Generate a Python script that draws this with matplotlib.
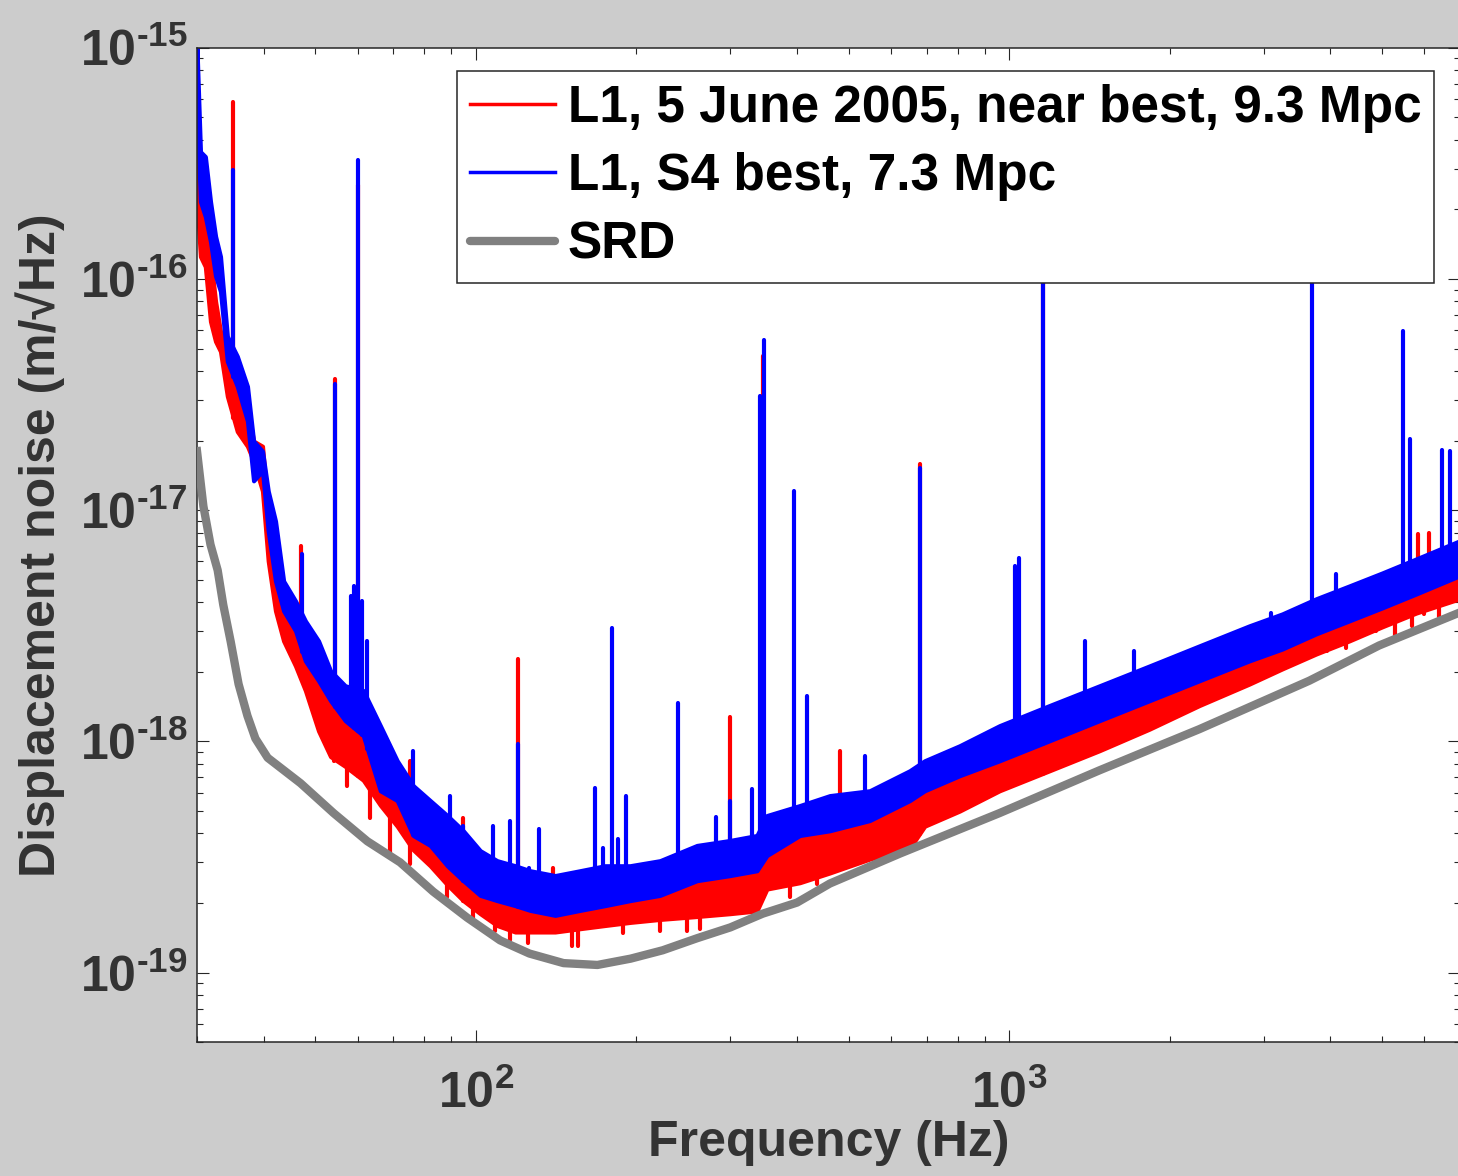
import numpy as np
import matplotlib
matplotlib.use("Agg")
import matplotlib.pyplot as plt
from matplotlib import font_manager
from matplotlib.lines import Line2D
from matplotlib.ticker import LogLocator, FixedLocator, FuncFormatter, NullFormatter

# ---------------------------------------------------------------------------
# data
# ---------------------------------------------------------------------------

# common frequency grid for the two measured spectra (Hz)
freq = [30.0, 30.45, 31.1, 31.8, 32.5, 33.2, 34.2, 35.7, 37.3, 38.3,
        39.8, 40.8, 42.1, 43.6, 45.9, 47.9, 50.7, 53.4, 56.9, 61.5,
        66.2, 71.2, 76.3, 82.1, 88.4, 94.7, 101.9, 109.6, 118.5, 126.4,
        140.8, 156.8, 174.6, 194.5, 221.4, 259.7, 299.5, 336.4, 351.2, 404.8,
        460.8, 547.5, 650.7, 694.1, 807.1, 959.0, 1190, 1476, 1831, 2272,
        2818, 3250, 3763, 4337, 5001, 5791, 6970]

# L1, 5 June 2005 -- upper / lower edge of the dense part of the trace (m/rtHz)
red_hi = [4.55e-16, 2.16e-16, 1.86e-16, 1.25e-16, 8.0e-17, 5.93e-17, 4.86e-17, 3.11e-17, 2.81e-17, 1.99e-17,
          1.89e-17, 9.91e-18, 7.35e-18, 4.47e-18, 3.67e-18, 2.46e-18, 2.02e-18, 1.66e-18, 1.50e-18, 1.23e-18,
          7.85e-19, 6.12e-19, 5.55e-19, 4.11e-19, 3.73e-19, 3.21e-19, 3.05e-19, 2.76e-19, 2.50e-19, 2.38e-19,
          2.27e-19, 2.38e-19, 2.38e-19, 2.50e-19, 2.63e-19, 2.76e-19, 2.90e-19, 2.95e-19, 4.11e-19, 4.11e-19,
          4.78e-19, 5.55e-19, 6.12e-19, 7.47e-19, 8.25e-19, 1.01e-18, 1.20e-18, 1.47e-18, 1.74e-18, 2.12e-18,
          2.64e-18, 2.92e-18, 3.42e-18, 3.97e-18, 4.47e-18, 5.09e-18, 5.91e-18]
red_lo = [2.16e-16, 1.25e-16, 1.13e-16, 6.55e-17, 5.37e-17, 4.86e-17, 3.11e-17, 2.19e-17, 1.89e-17, 1.63e-17,
          1.21e-17, 6.03e-18, 3.67e-18, 2.72e-18, 2.12e-18, 1.66e-18, 1.11e-18, 8.6e-19, 7.8e-19, 6.8e-19,
          5.3e-19, 4.3e-19, 3.4e-19, 2.9e-19, 2.4e-19, 2.05e-19, 1.8e-19, 1.6e-19, 1.5e-19, 1.5e-19,
          1.5e-19, 1.55e-19, 1.6e-19, 1.65e-19, 1.7e-19, 1.75e-19, 1.8e-19, 1.85e-19, 2.3e-19, 2.45e-19,
          2.7e-19, 3.1e-19, 3.45e-19, 4.3e-19, 5.0e-19, 6.12e-19, 7.47e-19, 9.12e-19, 1.13e-18, 1.43e-18,
          1.77e-18, 2.06e-18, 2.39e-18, 2.72e-18, 3.13e-18, 3.59e-18, 4.13e-18]

# L1, S4 best
blue_hi = [9.89e-16, 3.55e-16, 3.38e-16, 2.16e-16, 1.53e-16, 1.25e-16, 5.65e-17, 4.63e-17, 3.43e-17, 1.99e-17,
           1.80e-17, 1.21e-17, 8.97e-18, 4.94e-18, 4.05e-18, 3.32e-18, 2.72e-18, 2.02e-18, 1.74e-18, 1.66e-18,
           1.17e-18, 8.25e-19, 6.44e-19, 5.55e-19, 4.78e-19, 4.11e-19, 3.37e-19, 3.05e-19, 2.90e-19, 2.76e-19,
           2.63e-19, 2.76e-19, 2.90e-19, 2.90e-19, 3.05e-19, 3.55e-19, 3.73e-19, 3.92e-19, 4.78e-19, 5.28e-19,
           5.83e-19, 6.12e-19, 7.47e-19, 8.25e-19, 9.58e-19, 1.17e-18, 1.43e-18, 1.74e-18, 2.12e-18, 2.59e-18,
           3.16e-18, 3.56e-18, 4.14e-18, 4.70e-18, 5.35e-18, 6.15e-18, 7.35e-18]
blue_lo = [5.29e-16, 2.16e-16, 1.86e-16, 1.45e-16, 1.03e-16, 8.83e-17, 4.40e-17, 3.43e-17, 2.43e-17, 1.34e-17,
           1.48e-17, 8.12e-18, 4.94e-18, 3.67e-18, 3.01e-18, 2.23e-18, 1.83e-18, 1.50e-18, 1.23e-18, 1.06e-18,
           6.12e-19, 5.55e-19, 3.92e-19, 3.55e-19, 2.90e-19, 2.50e-19, 2.16e-19, 2.05e-19, 1.95e-19, 1.86e-19,
           1.77e-19, 1.86e-19, 1.95e-19, 2.05e-19, 2.16e-19, 2.50e-19, 2.63e-19, 2.76e-19, 3.21e-19, 3.92e-19,
           4.11e-19, 4.55e-19, 5.55e-19, 6.12e-19, 7.11e-19, 8.25e-19, 1.007e-18, 1.23e-18, 1.50e-18, 1.83e-18,
           2.23e-18, 2.51e-18, 2.92e-18, 3.32e-18, 3.78e-18, 4.34e-18, 5.19e-18]

# narrow lines (frequency, peak height)
red_spike_f = [35.1, 46.9, 54.5, 60.0, 75.3, 94.7, 120.0, 139.6, 300.0, 344.8,
               481, 679, 1155, 5842, 6124]
red_spike_v = [5.83e-16, 7.0e-18, 3.68e-17, 2.56e-16, 8.25e-19, 4.67e-19, 2.28e-18, 2.84e-19, 1.27e-18, 4.63e-17,
               9.1e-19, 1.58e-17, 9.75e-17, 7.88e-18, 8.0e-18]

# downward excursions of the red trace (frequency, lowest value)
red_dip_f = [54.1, 57.4, 63.4, 69.1, 75.3, 88.4, 98.8, 108.7, 116.0, 125.3,
             151.4, 155.4, 188.7, 221.4, 248.7, 263.1, 316.7, 387.9, 435.7, 3073,
             3350, 3946, 4281, 4874, 5290, 5691, 5993, 6395]
red_dip_v = [8.25e-19, 6.44e-19, 4.68e-19, 3.27e-19, 2.96e-19, 2.12e-19, 1.73e-19, 1.52e-19, 1.38e-19, 1.34e-19,
             1.31e-19, 1.31e-19, 1.48e-19, 1.52e-19, 1.52e-19, 1.55e-19, 1.91e-19, 2.12e-19, 2.43e-19, 1.98e-18,
             2.19e-18, 2.46e-18, 2.54e-18, 3.01e-18, 2.86e-18, 3.16e-18, 3.56e-18, 3.44e-18]

blue_spike_f = [35.1, 47.3, 54.5, 58.2, 59.2, 60.0, 61.2, 62.6, 76.3, 89.5,
                94.7, 107.7, 116.0, 120.0, 125.9, 131.4, 167.3, 173.1, 180.0, 184.7,
                191.2, 239.2, 281.8, 300.0, 329.2, 340.7, 346.7, 394.6, 404.8, 417.3,
                535.9, 679, 1023, 1045, 1155, 1384, 1541, 1717, 3099, 3700,
                4101, 5475, 5642, 6477, 6706]
blue_spike_v = [2.97e-16, 6.46e-18, 3.50e-17, 4.26e-18, 4.70e-18, 3.28e-16, 4.05e-18, 2.72e-18, 9.12e-19, 5.83e-19,
                4.33e-19, 4.33e-19, 4.55e-19, 9.77e-19, 2.84e-19, 4.2e-19, 6.3e-19, 3.47e-19, 3.10e-18, 3.8e-19,
                5.83e-19, 1.47e-18, 4.7e-19, 5.55e-19, 6.2e-19, 3.11e-17, 5.47e-17, 1.21e-17, 4.7e-19, 1.58e-18,
                8.68e-19, 1.52e-17, 5.74e-18, 6.2e-18, 9.75e-17, 2.72e-18, 1.66e-18, 2.46e-18, 3.6e-18, 9.75e-17,
                5.3e-18, 5.93e-17, 2.04e-17, 1.83e-17, 1.80e-17]

# SRD design curve
srd_f = [30.0, 30.84, 31.8, 32.8, 33.6, 34.7, 35.9, 37.3, 38.6, 40.7,
         46.9, 54.1, 62.6, 72.1, 83.2, 96.3, 111, 126, 146, 169,
         195, 224, 260, 300, 345, 400, 461, 623, 959, 1476,
         2272, 3651, 4937, 6970]
srd_v = [1.80e-17, 1.04e-17, 7.1e-18, 5.5e-18, 3.9e-18, 2.7e-18, 1.77e-18, 1.29e-18, 1.03e-18, 8.5e-19,
         6.6e-19, 4.9e-19, 3.7e-19, 3.0e-19, 2.24e-19, 1.73e-19, 1.38e-19, 1.21e-19, 1.10e-19, 1.08e-19,
         1.15e-19, 1.25e-19, 1.41e-19, 1.57e-19, 1.80e-19, 2.01e-19, 2.43e-19, 3.27e-19, 4.9e-19, 7.5e-19,
         1.13e-18, 1.83e-18, 2.6e-18, 3.6e-18]

labels = ["L1, 5 June 2005, near best, 9.3 Mpc", "L1, S4 best, 7.3 Mpc", "SRD"]

x_major = [1e2, 1e3]
y_major = [1e-19, 1e-18, 1e-17, 1e-16, 1e-15]

# ---------------------------------------------------------------------------
# style
# ---------------------------------------------------------------------------

BG = "#cccccc"
DARK = "#262626"
TXT = "#333333"
RED = "#ff0000"
BLUE = "#0000ff"
GRAY = "#808080"
LW = 3.0

names = {f.name for f in font_manager.fontManager.ttflist}
legend_family = "Liberation Sans Narrow" if "Liberation Sans Narrow" in names else "Liberation Sans"

plt.rcParams["font.family"] = ["Liberation Sans", "DejaVu Sans"]
plt.rcParams["font.weight"] = "bold"
plt.rcParams["mathtext.fontset"] = "custom"
plt.rcParams["mathtext.rm"] = "Liberation Sans:bold"
plt.rcParams["mathtext.bf"] = "Liberation Sans:bold"
plt.rcParams["mathtext.it"] = "Liberation Sans:bold:italic"
plt.rcParams["mathtext.default"] = "bf"


def pow10_label(v, _pos=None):
    """MATLAB style 10^n label, short hyphen for the sign."""
    e = int(round(np.log10(v)))
    s = ("\u2010%d" % -e) if e < 0 else ("%d" % e)
    return r"$\mathbf{10^{%s}}$" % s


def band_at(fs, f, edge):
    return 10 ** np.interp(np.log10(fs), np.log10(f), np.log10(edge))


def draw_trace(ax, f, lo, hi, sf, sv, color, lw, df=(), dv=()):
    """Noisy trace as a filled band plus its narrow lines."""
    f = np.asarray(f, float)
    lo = np.asarray(lo, float)
    hi = np.asarray(hi, float)
    ax.fill_between(f, lo, hi, facecolor=color, edgecolor=color, linewidth=lw,
                    joinstyle="round", zorder=2)
    for fs, vs in zip(sf, sv):
        ax.plot([fs, fs], [band_at(fs, f, lo), vs], color=color, lw=lw,
                solid_capstyle="round", zorder=2)
    for fs, vs in zip(df, dv):
        ax.plot([fs, fs], [vs, band_at(fs, f, hi)], color=color, lw=lw,
                solid_capstyle="round", zorder=2)


fig = plt.figure(figsize=(14.58, 11.76), dpi=100, facecolor=BG)
ax = fig.add_axes([197 / 1458, 1 - 1042.3 / 1176, 1263 / 1458, 994.6 / 1176])
ax.set_facecolor("white")

ax.set_xscale("log")
ax.set_yscale("log")

draw_trace(ax, freq, red_lo, red_hi, red_spike_f, red_spike_v, RED, LW, red_dip_f, red_dip_v)
draw_trace(ax, freq, blue_lo, blue_hi, blue_spike_f, blue_spike_v, BLUE, LW)
ax.plot(srd_f, srd_v, color=GRAY, lw=6, zorder=3, solid_joinstyle="round")

ax.set_xlim(30, 7000)
ax.set_ylim(5e-20, 1e-15)

# ticks, MATLAB look
ax.xaxis.set_major_locator(FixedLocator(x_major))
ax.yaxis.set_major_locator(FixedLocator(y_major))
for axis in (ax.xaxis, ax.yaxis):
    axis.set_minor_locator(LogLocator(base=10, subs=np.arange(2, 10), numticks=100))
    axis.set_major_formatter(FuncFormatter(pow10_label))
    axis.set_minor_formatter(NullFormatter())

ax.tick_params(which="both", direction="in", top=True, right=True, color=DARK,
               width=0.8, labelcolor=TXT, labelsize=36)
ax.tick_params(which="major", length=8.6)
ax.tick_params(which="minor", length=4.3)
ax.tick_params(axis="x", which="major", pad=20)
ax.tick_params(axis="y", which="major", pad=7)
for sp in ax.spines.values():
    sp.set_color(DARK)
    sp.set_linewidth(1.1)

ax.set_xlabel("Frequency (Hz)", fontsize=36, fontweight="bold", color=TXT)
ax.set_ylabel("Displacement noise (m/\u221aHz)", fontsize=36, fontweight="bold", color=TXT)
ax.xaxis.set_label_coords(0.5, -0.078)
ax.yaxis.set_label_coords(-0.1045, 0.5)

handles = [Line2D([], [], color=RED, lw=2.5),
           Line2D([], [], color=BLUE, lw=2.5),
           Line2D([], [], color=GRAY, lw=6, solid_capstyle="round")]
leg = ax.legend(handles, labels, loc="upper right", bbox_to_anchor=(0.9794, 0.9766),
                prop={"family": legend_family, "weight": "bold", "size": 37},
                frameon=True, fancybox=False, framealpha=1, edgecolor=DARK,
                handlelength=1.65, handletextpad=0.25, labelspacing=0.38,
                borderpad=0.25, borderaxespad=0)
leg.get_frame().set_linewidth(1.1)
for t in leg.get_texts():
    t.set_color("black")
leg.set_zorder(10)

fig.savefig("out.png", dpi=100, facecolor=BG)
